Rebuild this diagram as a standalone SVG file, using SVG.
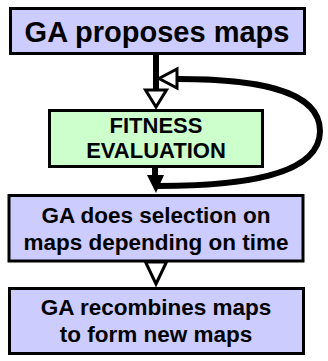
<svg xmlns="http://www.w3.org/2000/svg" width="328" height="361" viewBox="0 0 328 361">
<style>
.box{stroke:#000;stroke-width:3}
.blue{fill:#ccccff}
.green{fill:#ccffcc}
text{font-family:"Liberation Sans",Arial,sans-serif;font-weight:bold;fill:#000;text-anchor:middle}
.line{stroke:#000;stroke-width:6;fill:none}
.hollow{fill:#fff;stroke:#000;stroke-width:3;stroke-linejoin:miter}
</style>
<rect width="328" height="361" fill="#fff"/>
<g id="connectors">
<line class="line" x1="156" y1="55" x2="156" y2="90"/>
<polygon class="hollow" points="145.5,90 166.5,90 156,107"/>
<line class="line" x1="155" y1="167" x2="155" y2="180"/>
<path class="line" d="M158 186 C240 186 320 176 320 131 C320 88 250 79 178 79"/>
<polygon points="147,175 164,175 156,193" fill="#000"/>
<polygon class="hollow" points="177,69 177,88 159,78.5"/>
<polygon class="hollow" points="145.5,262 166.5,262 156,284"/>
</g>
<g id="n1">
<rect class="box blue" x="10.5" y="8.5" width="294" height="45"/>
<text x="157" y="42" font-size="29">GA proposes maps</text>
</g>
<g id="n2">
<rect class="box green" x="49.5" y="110.5" width="213" height="56"/>
<text x="156" y="133" font-size="22">FITNESS</text>
<text x="156" y="158" font-size="22">EVALUATION</text>
</g>
<g id="n3">
<rect class="box blue" x="9" y="195.5" width="294" height="65.5"/>
<text x="156" y="223" font-size="22.5">GA does selection on</text>
<text x="156" y="250" font-size="22.5">maps depending on time</text>
</g>
<g id="n4">
<rect class="box blue" x="9.5" y="288.5" width="294" height="65"/>
<text x="156" y="315" font-size="22.5">GA recombines maps</text>
<text x="156" y="342" font-size="22.5">to form new maps</text>
</g>
</svg>
